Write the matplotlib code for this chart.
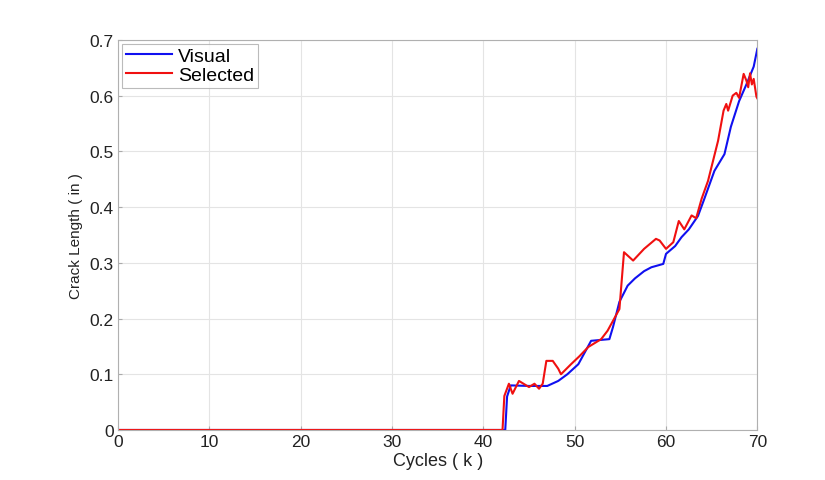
import matplotlib
matplotlib.use('Agg')
import matplotlib.pyplot as plt

plt.rcParams['font.family'] = ['Liberation Sans', 'DejaVu Sans']

# Visual crack length readings (cycles in k, length in in)
visual_x = [0, 42.4, 42.6, 43.0, 45.0, 47.0, 48.2, 49.2, 50.4, 51.8, 53.8,
            54.2, 54.9, 55.8, 56.6, 57.6, 58.4, 59.7, 60.0, 61.0, 61.7, 62.5,
            63.5, 64.2, 65.3, 66.4, 67.1, 68.0, 68.8, 69.6, 70.0]
visual_y = [0, 0, 0.06, 0.08, 0.079, 0.079, 0.088, 0.10, 0.118, 0.16, 0.163,
            0.185, 0.23, 0.259, 0.272, 0.285, 0.292, 0.298, 0.316, 0.33, 0.346,
            0.36, 0.384, 0.415, 0.465, 0.495, 0.544, 0.59, 0.62, 0.652, 0.684]

# Selected estimate
selected_x = [0, 42.1, 42.3, 42.8, 43.2, 43.9, 44.4, 45.0, 45.6, 46.1, 46.5,
              46.9, 47.6, 48.2, 48.5, 49.6, 50.5, 51.5, 52.9, 53.6, 54.9,
              55.4, 56.4, 57.6, 58.9, 59.3, 60.0, 60.8, 61.4, 62.0, 62.8,
              63.3, 63.9, 64.6, 65.7, 66.3, 66.6, 66.8, 67.3, 67.7, 68.0,
              68.5, 68.8, 69.0, 69.2, 69.4, 69.6, 69.9, 70.0]
selected_y = [0, 0, 0.061, 0.083, 0.065, 0.088, 0.083, 0.077, 0.083, 0.074,
              0.083, 0.124, 0.124, 0.11, 0.10, 0.118, 0.132, 0.149, 0.163,
              0.178, 0.217, 0.319, 0.304, 0.325, 0.343, 0.34, 0.325, 0.337,
              0.375, 0.36, 0.385, 0.38, 0.415, 0.447, 0.519, 0.573, 0.585,
              0.573, 0.6, 0.605, 0.596, 0.639, 0.627, 0.615, 0.64, 0.62, 0.63,
              0.598, 0.595]

xticks = [0, 10, 20, 30, 40, 50, 60, 70]
yticks = [0, 0.1, 0.2, 0.3, 0.4, 0.5, 0.6, 0.7]
ytick_labels = ['0', '0.1', '0.2', '0.3', '0.4', '0.5', '0.6', '0.7']

fig = plt.figure(figsize=(8.25, 4.81), dpi=100)
ax = fig.add_axes([0.143, 0.104, 0.775, 0.811])

ax.plot(visual_x, visual_y, color='#1010f0', lw=1.5, label='Visual')
ax.plot(selected_x, selected_y, color='#f01010', lw=1.5, label='Selected')

ax.set_xlim(0, 70)
ax.set_ylim(0, 0.7)
ax.set_xticks(xticks)
ax.set_yticks(yticks)
ax.set_yticklabels(ytick_labels)
ax.grid(True, color='#e4e4e4', lw=0.8)
ax.set_axisbelow(True)
for s in ax.spines.values():
    s.set_color('#b0b0b0')
ax.tick_params(direction='in', length=3, color='#aaaaaa', labelsize=12.5,
               labelcolor='#222222', pad=3)

ax.set_xlabel('Cycles ( k )', fontsize=13, color='#222222', labelpad=2)
ax.set_ylabel('Crack Length ( in )', fontsize=11, color='#222222', labelpad=5)

leg = ax.legend(loc='upper left', fontsize=14, frameon=True, fancybox=False,
                borderaxespad=0.2, handlelength=2.4, borderpad=0.2,
                labelspacing=0.05, handletextpad=0.3)
leg.get_frame().set_edgecolor('#aaaaaa')
leg.get_frame().set_linewidth(0.8)

fig.savefig('out.png', dpi=100)
